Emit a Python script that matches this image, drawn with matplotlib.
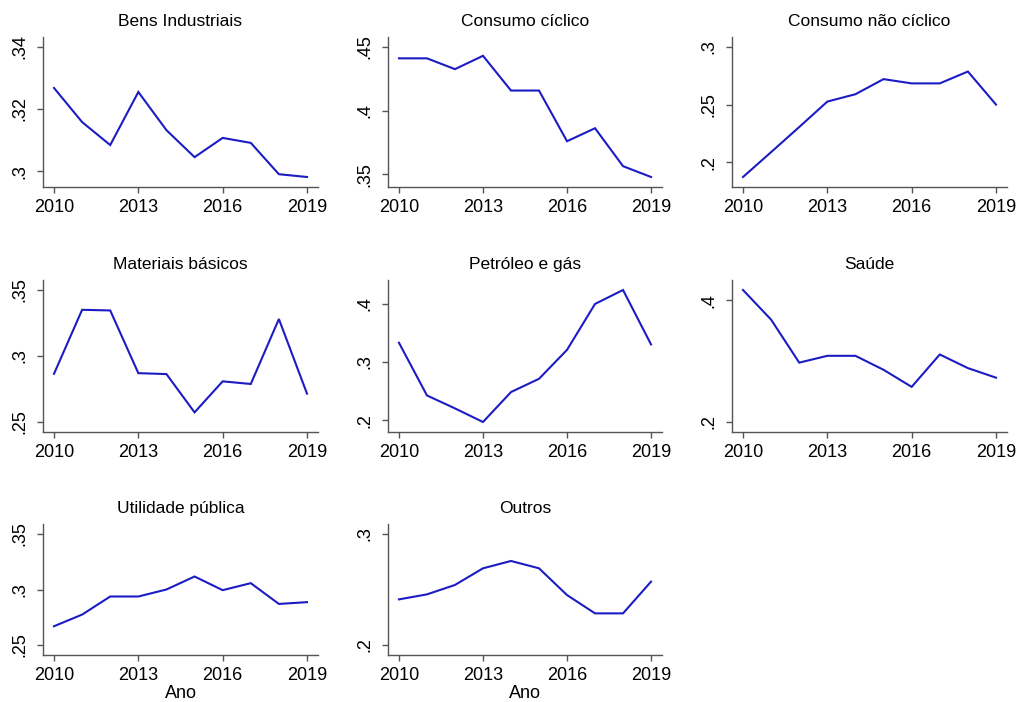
import matplotlib
matplotlib.use("Agg")
import matplotlib.pyplot as plt
import numpy as np

plt.rcParams['font.family'] = ['Liberation Sans', 'DejaVu Sans']

years = [2010, 2011, 2012, 2013, 2014, 2015, 2016, 2017, 2018, 2019]
xticks = [2010, 2013, 2016, 2019]

titles = ["Bens Industriais", "Consumo cíclico", "Consumo não cíclico",
          "Materiais básicos", "Petróleo e gás", "Saúde",
          "Utilidade pública", "Outros"]

bens_industriais = [0.3268, 0.3158, 0.3084, 0.3255, 0.3132, 0.3045, 0.3107, 0.3091, 0.2990, 0.2981]
consumo_ciclico = [0.4411, 0.4411, 0.4326, 0.4431, 0.4158, 0.4158, 0.3760, 0.3862, 0.3564, 0.3479]
consumo_nao_ciclico = [0.1871, 0.2087, 0.2305, 0.2526, 0.2590, 0.2721, 0.2684, 0.2684, 0.2787, 0.2500]
materiais_basicos = [0.2865, 0.3350, 0.3345, 0.2870, 0.2863, 0.2573, 0.2808, 0.2788, 0.3280, 0.2715]
petroleo_gas = [0.3329, 0.2426, 0.2204, 0.1971, 0.2484, 0.2711, 0.3207, 0.3994, 0.4233, 0.3300]
saude = [0.4168, 0.3681, 0.2975, 0.3087, 0.3087, 0.2857, 0.2577, 0.3109, 0.2885, 0.2728]
utilidade_publica = [0.2669, 0.2774, 0.2937, 0.2937, 0.3000, 0.3117, 0.2994, 0.3057, 0.2870, 0.2886]
outros = [0.2411, 0.2456, 0.2541, 0.2691, 0.2757, 0.2691, 0.2450, 0.2285, 0.2285, 0.2571]

series = [bens_industriais, consumo_ciclico, consumo_nao_ciclico, materiais_basicos,
          petroleo_gas, saude, utilidade_publica, outros]

yticks = [[0.30, 0.32, 0.34], [0.35, 0.40, 0.45], [0.20, 0.25, 0.30],
          [0.25, 0.30, 0.35], [0.20, 0.30, 0.40], [0.20, 0.40],
          [0.25, 0.30, 0.35], [0.20, 0.30]]


def fmt(v):
    s = f"{v:.2f}".rstrip('0').rstrip('.')
    if s.startswith('0'):
        s = s[1:]
    return s


W, H = 1017, 702
fig = plt.figure(figsize=(W / 100, H / 100), dpi=100)

col_x = [(43, 318), (388, 662), (732, 1007)]
row_y = [(37, 187), (280, 432), (524, 655)]

line_color = '#1c1cc4'
spine_color = '#555555'

for i, (title, data, yt) in enumerate(zip(titles, series, yticks)):
    r, c = divmod(i, 3)
    x0, x1 = col_x[c]
    y0, y1 = row_y[r]
    ax = fig.add_axes([x0 / W, 1 - y1 / H, (x1 - x0) / W, (y1 - y0) / H])
    ax.plot(years, data, color=line_color, lw=1.5, solid_joinstyle='miter')
    ax.set_title(title, fontsize=12.5, pad=8)
    for s in ['top', 'right']:
        ax.spines[s].set_visible(False)
    for s in ['left', 'bottom']:
        ax.spines[s].set_color(spine_color)
        ax.spines[s].set_linewidth(1.0)
    # axis limits: data/ticks range with fixed pixel pad
    lo = min(min(data), yt[0])
    hi = max(max(data), yt[-1])
    h_px = y1 - y0
    pad = (hi - lo) * 10 / (h_px - 20)
    ax.set_ylim(lo - pad, hi + pad)
    xpad = 9 * 11 / 253
    ax.set_xlim(years[0] - xpad, years[-1] + xpad)
    ax.set_xticks(xticks)
    ax.set_xticklabels([str(t) for t in xticks])
    ax.set_yticks(yt)
    ax.set_yticklabels([fmt(v) for v in yt], rotation=90, va='center')
    ax.tick_params(axis='both', direction='out', length=4.5, width=1.0,
                   color=spine_color, labelsize=13, pad=4)
    ax.tick_params(axis='y', pad=6)
    ax.set_facecolor('white')
    if r == 2:
        ax.set_xlabel('Ano', fontsize=13, labelpad=1)

fig.savefig('out.png', dpi=100, facecolor='white')
